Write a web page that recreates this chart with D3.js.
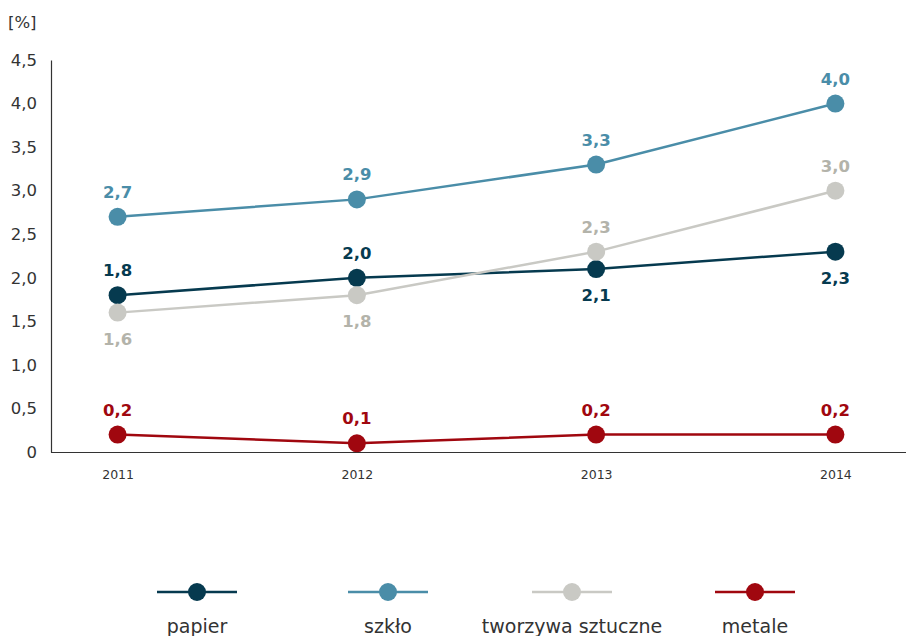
<!DOCTYPE html>
<html>
<head>
<meta charset="utf-8">
<script src="https://cdn.jsdelivr.net/npm/d3@7/dist/d3.min.js"></script>
<style>
  body { margin: 0; background: #fff; }
  svg { display: block; font-family: "DejaVu Sans", sans-serif; }
</style>
</head>
<body>
<svg id="chart" width="908" height="636"></svg>
<script>
// Years on the x axis
const years = ["2011", "2012", "2013", "2014"];

// Share of each material, in percent
const papier = [1.8, 2.0, 2.1, 2.3];
const szklo = [2.7, 2.9, 3.3, 4.0];
const tworzywa = [1.6, 1.8, 2.3, 3.0];
const metale = [0.2, 0.1, 0.2, 0.2];

const yTicks = [0, 0.5, 1, 1.5, 2, 2.5, 3, 3.5, 4, 4.5];

const seriesNames = ["papier", "szkło", "tworzywa sztuczne", "metale"];

// Where each value label sits relative to its point: -1 above, 1 below
const papierPos = [-1, -1, 1, 1];
const szkloPos = [-1, -1, -1, -1];
const tworzywaPos = [1, 1, -1, -1];
const metalePos = [-1, -1, -1, -1];

const series = [
  { name: seriesNames[0], values: papier, pos: papierPos, color: "#063a4f", labelColor: "#063a4f" },
  { name: seriesNames[1], values: szklo, pos: szkloPos, color: "#4a8da8", labelColor: "#4a8da8" },
  { name: seriesNames[2], values: tworzywa, pos: tworzywaPos, color: "#c9c9c4", labelColor: "#b3b3aa" },
  { name: seriesNames[3], values: metale, pos: metalePos, color: "#a0070f", labelColor: "#a0070f" }
];

const svg = d3.select("#chart");
const fmt = v => v === 0 ? "0" : d3.format(".1f")(v).replace(".", ",");

const x = d3.scalePoint().domain(years).range([53, 900]).padding(0.27);
const y = d3.scaleLinear().domain([0, 4.5]).range([452, 60]);

// Axes
const yAxis = svg.append("g")
  .attr("transform", "translate(51,0)")
  .call(d3.axisLeft(y).tickValues(yTicks).tickSize(0).tickPadding(14).tickFormat(fmt));
yAxis.select(".domain").attr("stroke", "#333").attr("stroke-width", 1.2);
yAxis.selectAll("text").attr("font-size", 16.5).attr("fill", "#333").attr("font-family", "DejaVu Sans");

const xAxis = svg.append("g")
  .attr("transform", "translate(0,452)")
  .call(d3.axisBottom(x).tickSize(0).tickPadding(18));
xAxis.select(".domain").attr("d", "M51,0.5H906").attr("stroke", "#333").attr("stroke-width", 1.2);
xAxis.selectAll("text").attr("font-size", 12.5).attr("fill", "#333").attr("font-family", "DejaVu Sans");

svg.append("text")
  .attr("x", 8).attr("y", 28)
  .attr("font-size", 16.5).attr("fill", "#333")
  .text("[%]");

const line = d3.line().x((d, i) => x(years[i])).y(d => y(d));

// Lines, markers and value labels
series.forEach(s => {
  const g = svg.append("g");
  g.append("path")
    .datum(s.values)
    .attr("d", line)
    .attr("fill", "none")
    .attr("stroke", s.color)
    .attr("stroke-width", 2.5);
  g.selectAll("circle")
    .data(s.values)
    .join("circle")
    .attr("cx", (d, i) => x(years[i]))
    .attr("cy", d => y(d))
    .attr("r", 9)
    .attr("fill", s.color);
  g.selectAll("text")
    .data(s.values)
    .join("text")
    .attr("x", (d, i) => x(years[i]))
    .attr("y", (d, i) => y(d) + (s.pos[i] < 0 ? -19 : 32))
    .attr("text-anchor", "middle")
    .attr("font-size", 16.5)
    .attr("font-weight", "bold")
    .attr("fill", s.labelColor)
    .text(d => fmt(d));
});

// Legend
const legendX = [197, 388, 572, 755];
const legend = svg.append("g");
series.forEach((s, i) => {
  const cx = legendX[i];
  legend.append("line")
    .attr("x1", cx - 40).attr("x2", cx + 40)
    .attr("y1", 592).attr("y2", 592)
    .attr("stroke", s.color).attr("stroke-width", 2.5);
  legend.append("circle")
    .attr("cx", cx).attr("cy", 592).attr("r", 9)
    .attr("fill", s.color);
  legend.append("text")
    .attr("x", cx).attr("y", 633)
    .attr("text-anchor", "middle")
    .attr("font-size", 19).attr("fill", "#333")
    .text(s.name);
});
</script>
</body>
</html>
